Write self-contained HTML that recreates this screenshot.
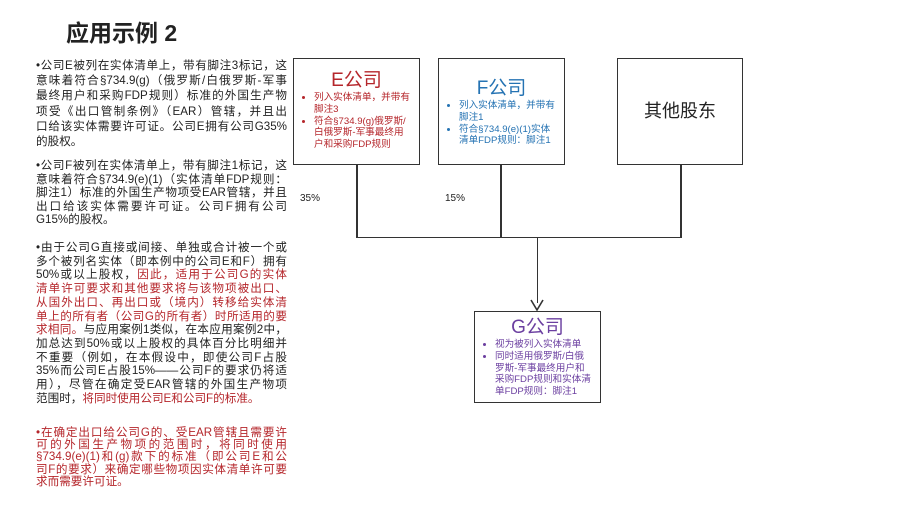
<!DOCTYPE html>
<html><head><meta charset="utf-8"><style>
body{margin:0;width:916px;height:516px;background:#fff;position:relative;overflow:hidden;font-family:"Liberation Sans","Noto Sans CJK SC",sans-serif;color:#222}
.t{position:absolute;left:66px;top:14px;font-size:23px;font-weight:bold}
.p{position:absolute;left:36px;width:251px;font-size:11.6px;line-height:14.3px}
.p div{text-align:justify;text-align-last:justify;white-space:nowrap;overflow:visible}
.p div.l{text-align-last:left}
.r{color:#b5262b}
.box{position:absolute;border:1.5px solid #333;box-sizing:border-box;background:#fff}
.h{text-align:center;font-size:19px;line-height:22px}
ul{margin:0;padding:0 9px 0 20px;font-size:9.6px;line-height:11.8px}
li{margin:0}
.ln{position:absolute;background:#333}
.pc{position:absolute;font-size:10px;color:#222}
</style></head><body>
<div class="t">应用示例 2</div>
<div class="p" style="top:58px;line-height:15.2px">
<div>•公司E被列在实体清单上，带有脚注3标记，这</div>
<div>意味着符合§734.9(g)（俄罗斯/白俄罗斯-军事</div>
<div>最终用户和采购FDP规则）标准的外国生产物</div>
<div>项受《出口管制条例》（EAR）管辖，并且出</div>
<div>口给该实体需要许可证。公司E拥有公司G35%</div>
<div class="l">的股权。</div>
</div>
<div class="p" style="top:159px;line-height:13.6px">
<div>•公司F被列在实体清单上，带有脚注1标记，这</div>
<div>意味着符合§734.9(e)(1)（实体清单FDP规则：</div>
<div>脚注1）标准的外国生产物项受EAR管辖，并且</div>
<div>出口给该实体需要许可证。公司F拥有公司</div>
<div class="l">G15%的股权。</div>
</div>
<div class="p" style="top:241px;line-height:13.7px">
<div>•由于公司G直接或间接、单独或合计被一个或</div>
<div>多个被列名实体（即本例中的公司E和F）拥有</div>
<div>50%或以上股权，<span class="r">因此，适用于公司G的实体</span></div>
<div class="r">清单许可要求和其他要求将与该物项被出口、</div>
<div class="r">从国外出口、再出口或（境内）转移给实体清</div>
<div class="r">单上的所有者（公司G的所有者）时所适用的要</div>
<div><span class="r">求相同。</span>与应用案例1类似，在本应用案例2中，</div>
<div>加总达到50%或以上股权的具体百分比明细并</div>
<div>不重要（例如，在本假设中，即使公司F占股</div>
<div>35%而公司E占股15%——公司F的要求仍将适</div>
<div>用），尽管在确定受EAR管辖的外国生产物项</div>
<div class="l">范围时，<span class="r">将同时使用公司E和公司F的标准。</span></div>
</div>
<div class="p r" style="top:427px;line-height:12.2px">
<div>•在确定出口给公司G的、受EAR管辖且需要许</div>
<div>可的外国生产物项的范围时，将同时使用</div>
<div>§734.9(e)(1)和(g)款下的标准（即公司E和公</div>
<div>司F的要求）来确定哪些物项因实体清单许可要</div>
<div class="l">求而需要许可证。</div>
</div>

<div class="ln" style="left:356px;top:164px;width:1.5px;height:74px"></div>
<div class="ln" style="left:500px;top:164px;width:1.5px;height:74px"></div>
<div class="ln" style="left:680px;top:164px;width:1.5px;height:74px"></div>
<div class="ln" style="left:356px;top:236.5px;width:325.5px;height:1.5px"></div>
<div class="ln" style="left:536.5px;top:237px;width:1.5px;height:66px"></div>
<svg style="position:absolute;left:530px;top:298px" width="14" height="14"><path d="M1 2 L7 12 L13 2" fill="none" stroke="#333" stroke-width="1.6"/></svg>
<div class="pc" style="left:300px;top:193px">35%</div>
<div class="pc" style="left:445px;top:193px">15%</div>

<div class="box" style="left:293px;top:58px;width:127px;height:107px;color:#b5262b">
<div class="h" style="margin-top:11px">E公司</div>
<ul><li>列入实体清单，并带有脚注3</li><li>符合§734.9(g)俄罗斯/白俄罗斯-军事最终用户和采购FDP规则</li></ul>
</div>
<div class="box" style="left:438px;top:58px;width:127px;height:107px;color:#2573b3">
<div class="h" style="margin-top:19px">F公司</div>
<ul><li>列入实体清单，并带有脚注1</li><li>符合§734.9(e)(1)实体清单FDP规则：脚注1</li></ul>
</div>
<div class="box" style="left:617px;top:58px;width:126px;height:107px">
<div class="h" style="margin-top:41px;font-size:18px">其他股东</div>
</div>
<div class="box" style="left:474px;top:311px;width:127px;height:92px;color:#6b3fa0">
<div class="h" style="margin-top:5px">G公司</div>
<ul><li>视为被列入实体清单</li><li>同时适用俄罗斯/白俄罗斯-军事最终用户和采购FDP规则和实体清单FDP规则：脚注1</li></ul>
</div>
</body></html>
